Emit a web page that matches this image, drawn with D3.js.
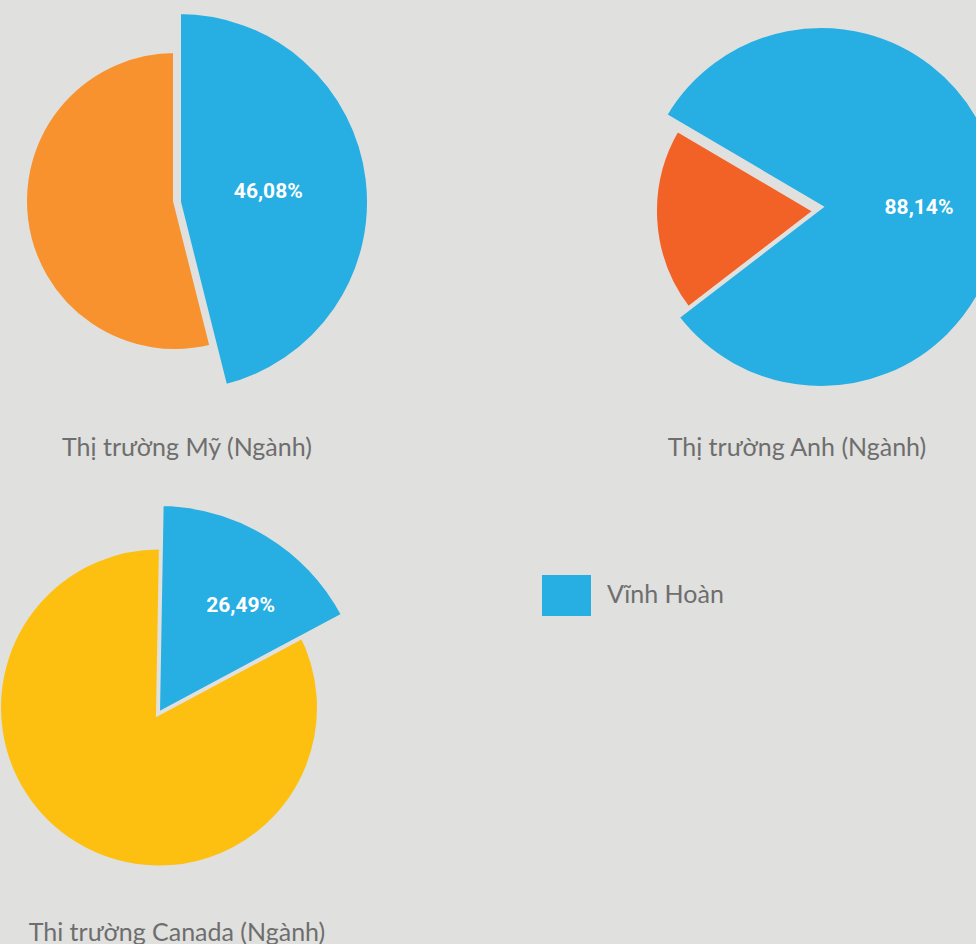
<!DOCTYPE html>
<html>
<head>
<meta charset="utf-8">
<script src="https://cdn.jsdelivr.net/npm/d3@7"></script>
<style>
  html, body { margin: 0; padding: 0; background: #e0e0de; }
  svg { display: block; }
</style>
</head>
<body>
<svg id="chart"></svg>
<script>
// data
const markets = ["Thị trường Mỹ (Ngành)", "Thị trường Anh (Ngành)", "Thi trường Canada (Ngành)"];
const vinhHoanLabels = ["46,08%", "88,14%", "26,49%"];
// share of the circle each slice takes in the picture
const vinhHoanShare = [46.08, 81.1, 16.9];
const otherShare = [53.92, 18.9, 83.1];
const otherColors = ["#f7922f", "#f26126", "#fdc010"];
const legendLabels = ["Vĩnh Hoàn"];
const legendColors = ["#27aee3"];

// layout of each pie (other slice centre/radius, Vinh Hoan slice centre/radius)
const layout = [
    {cx: 175, cy: 201, r: 150, hx: 179, hy: 202, hr: 190, start: 0, labelR: 90, labelTurn: 0, titleX: 187, titleY: 456},
    {cx: 815, cy: 211, r: 160, hx: 821, hy: 207, hr: 181, start: -59.5, labelR: 98, labelTurn: 3.5, titleX: 797, titleY: 456},
    {cx: 159, cy: 707.5, r: 160, hx: 158, hy: 714, hr: 210, start: 1, labelR: 137, labelTurn: 5.7, titleX: 177, titleY: 941}
];

const width = 976, height = 944;
const bg = "#e0e0de";
const blue = legendColors[0];
const rad = d => d * Math.PI / 180;

const svg = d3.select("#chart")
    .attr("width", width)
    .attr("height", height);

svg.append("rect")
    .attr("width", width)
    .attr("height", height)
    .attr("fill", bg);

markets.forEach((name, i) => {
    const L = layout[i];
    const s = rad(L.start);
    const pie = d3.pie().sort(null).value(d => d).startAngle(s).endAngle(s + 2 * Math.PI);
    const arcs = pie([vinhHoanShare[i], otherShare[i]]);

    const g = svg.append("g").attr("class", "pie");

    // other slice
    g.append("path")
        .attr("transform", `translate(${L.cx},${L.cy})`)
        .attr("d", d3.arc().innerRadius(0).outerRadius(L.r)(arcs[1]))
        .attr("fill", otherColors[i])
        .attr("stroke", bg)
        .attr("stroke-width", 4)
        .attr("stroke-linejoin", "miter");

    // Vinh Hoan slice (pulled out, bigger)
    g.append("path")
        .attr("transform", `translate(${L.hx},${L.hy})`)
        .attr("d", d3.arc().innerRadius(0).outerRadius(L.hr)(arcs[0]))
        .attr("fill", blue)
        .attr("stroke", bg)
        .attr("stroke-width", 4)
        .attr("stroke-linejoin", "miter");

    // value label
    const a = (arcs[0].startAngle + arcs[0].endAngle) / 2 + rad(L.labelTurn);
    g.append("text")
        .attr("x", L.hx + L.labelR * Math.sin(a))
        .attr("y", L.hy - L.labelR * Math.cos(a))
        .attr("dy", "0.35em")
        .attr("text-anchor", "middle")
        .attr("fill", "#ffffff")
        .attr("font-family", "Roboto, sans-serif")
        .attr("font-weight", "bold")
        .attr("font-size", "21px")
        .text(vinhHoanLabels[i]);

    // title
    svg.append("text")
        .attr("x", L.titleX)
        .attr("y", L.titleY)
        .attr("text-anchor", "middle")
        .attr("fill", "#6e6e6e")
        .attr("font-family", "Lato, 'Open Sans', sans-serif")
        .attr("font-size", "25px")
        .text(name);
});

// legend
const legend = svg.append("g")
    .attr("class", "legend")
    .attr("transform", "translate(542,575)")
    .selectAll("g")
    .data(legendLabels)
    .enter()
    .append("g");
legend.append("rect")
    .attr("x", 0)
    .attr("y", (d, i) => i * 50)
    .attr("width", 49)
    .attr("height", 41)
    .attr("fill", (d, i) => legendColors[i]);
legend.append("text")
    .attr("x", 65)
    .attr("y", (d, i) => 28 + i * 50)
    .attr("fill", "#6e6e6e")
    .attr("font-family", "Lato, 'Open Sans', sans-serif")
    .attr("font-size", "25px")
    .text(d => d);
</script>
</body>
</html>
